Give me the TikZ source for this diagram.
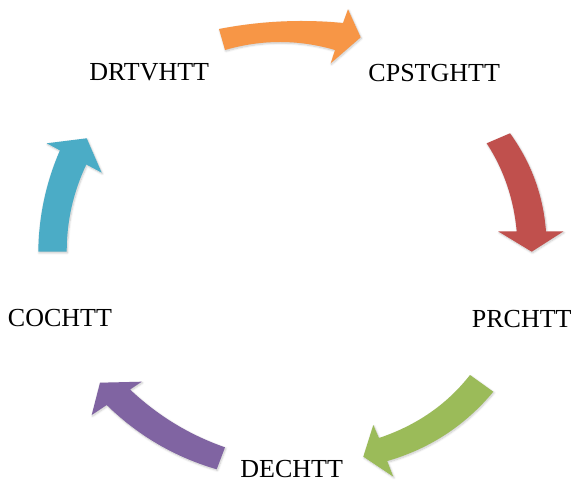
\documentclass[tikz,border=0pt]{standalone}
\usepackage{fontspec}
\setmainfont{Liberation Serif}
\usetikzlibrary{calc,shadows.blur}

% Office-style accent colours for the five cycle arrows
\definecolor{cycOrange}{HTML}{F79646}
\definecolor{cycRed}{HTML}{C0504D}
\definecolor{cycGreen}{HTML}{9BBB59}
\definecolor{cycPurple}{HTML}{8064A2}
\definecolor{cycTeal}{HTML}{4BACC6}

% Curved block arrow built from named points #1-a ... #1-i:
% a = tail corner, b = control of first side, c = side end at head,
% d = head corner, e = tip, f = head corner, g = side start at head,
% h = control of second side, i = other tail corner.
% Sides are quadratic curves written as cubics.
\newcommand{\cycarrow}[2]{%
  \fill[cyclearrow=#2]
    (#1-a) .. controls ($(#1-a)!2/3!(#1-b)$) and ($(#1-c)!2/3!(#1-b)$) .. (#1-c)
    -- (#1-d) -- (#1-e) -- (#1-f) -- (#1-g)
    .. controls ($(#1-g)!2/3!(#1-h)$) and ($(#1-i)!2/3!(#1-h)$) .. (#1-i)
    -- cycle;}

\begin{document}
\begin{tikzpicture}[x=1pt,y=1pt,
  stage/.style={inner sep=0pt, font=\fontsize{26}{30}\selectfont, text=black},
  cyclearrow/.style={fill=#1, draw=none,
    blur shadow={shadow xshift=0.8pt, shadow yshift=-1.2pt,
                 shadow blur steps=8, shadow blur radius=2pt, shadow opacity=22}}]
\useasboundingbox (0,0) rectangle (572,482);

% stage labels around the cycle
\node[stage] (drtvhtt)  at (149.2,409.5) {DRTVHTT};
\node[stage] (cpstghtt) at (434.2,409.0) {CPSTGHTT};
\node[stage] (prchtt)   at (521.7,162.8) {PRCHTT};
\node[stage] (dechtt)   at (291.7,12.8)  {DECHTT};
\node[stage] (cochtt)   at (60.0,163.7)  {COCHTT};

% DRTVHTT -> CPSTGHTT
\coordinate (o-a) at (219,453);   \coordinate (o-b) at (281,465);
\coordinate (o-c) at (343,459);   \coordinate (o-d) at (348,472.7);
\coordinate (o-e) at (360.7,444.7); \coordinate (o-f) at (330.7,418.7);
\coordinate (o-g) at (335,432);   \coordinate (o-h) at (280,448);
\coordinate (o-i) at (225,432);

% CPSTGHTT -> PRCHTT
\coordinate (r-a) at (510,348.7); \coordinate (r-b) at (542,304.4);
\coordinate (r-c) at (546,250.5); \coordinate (r-d) at (563.3,250.5);
\coordinate (r-e) at (531.7,230.3); \coordinate (r-f) at (498.3,250.5);
\coordinate (r-g) at (516.7,250.5); \coordinate (r-h) at (512.3,299.4);
\coordinate (r-i) at (486.7,338.7);

% PRCHTT -> DECHTT
\coordinate (g-a) at (493.3,90.3); \coordinate (g-b) at (450.75,39.35);
\coordinate (g-c) at (387.2,21);   \coordinate (g-d) at (393.3,5.3);
\coordinate (g-e) at (363.3,25.3); \coordinate (g-f) at (373.3,57);
\coordinate (g-g) at (379,44);     \coordinate (g-h) at (435.5,62.9);
\coordinate (g-i) at (470,107);

% DECHTT -> COCHTT
\coordinate (p-a) at (225,34.7);   \coordinate (p-b) at (171.7,53.2);
\coordinate (p-c) at (130,92.5);   \coordinate (p-d) at (141.7,100.3);
\coordinate (p-e) at (100,99.3);   \coordinate (p-f) at (91.7,67);
\coordinate (p-g) at (106.7,77);   \coordinate (p-h) at (153.7,31.05);
\coordinate (p-i) at (216.7,12.7);

% COCHTT -> DRTVHTT
\coordinate (t-a) at (38.3,230.3); \coordinate (t-b) at (38.9,283.05);
\coordinate (t-c) at (59.9,331.6); \coordinate (t-d) at (46.7,338.7);
\coordinate (t-e) at (86.7,343.7); \coordinate (t-f) at (101.7,309.3);
\coordinate (t-g) at (86.3,317.5); \coordinate (t-h) at (66.7,276.1);
\coordinate (t-i) at (66.7,230.3);

\cycarrow{o}{cycOrange}
\cycarrow{r}{cycRed}
\cycarrow{g}{cycGreen}
\cycarrow{p}{cycPurple}
\cycarrow{t}{cycTeal}
\end{tikzpicture}
\end{document}
